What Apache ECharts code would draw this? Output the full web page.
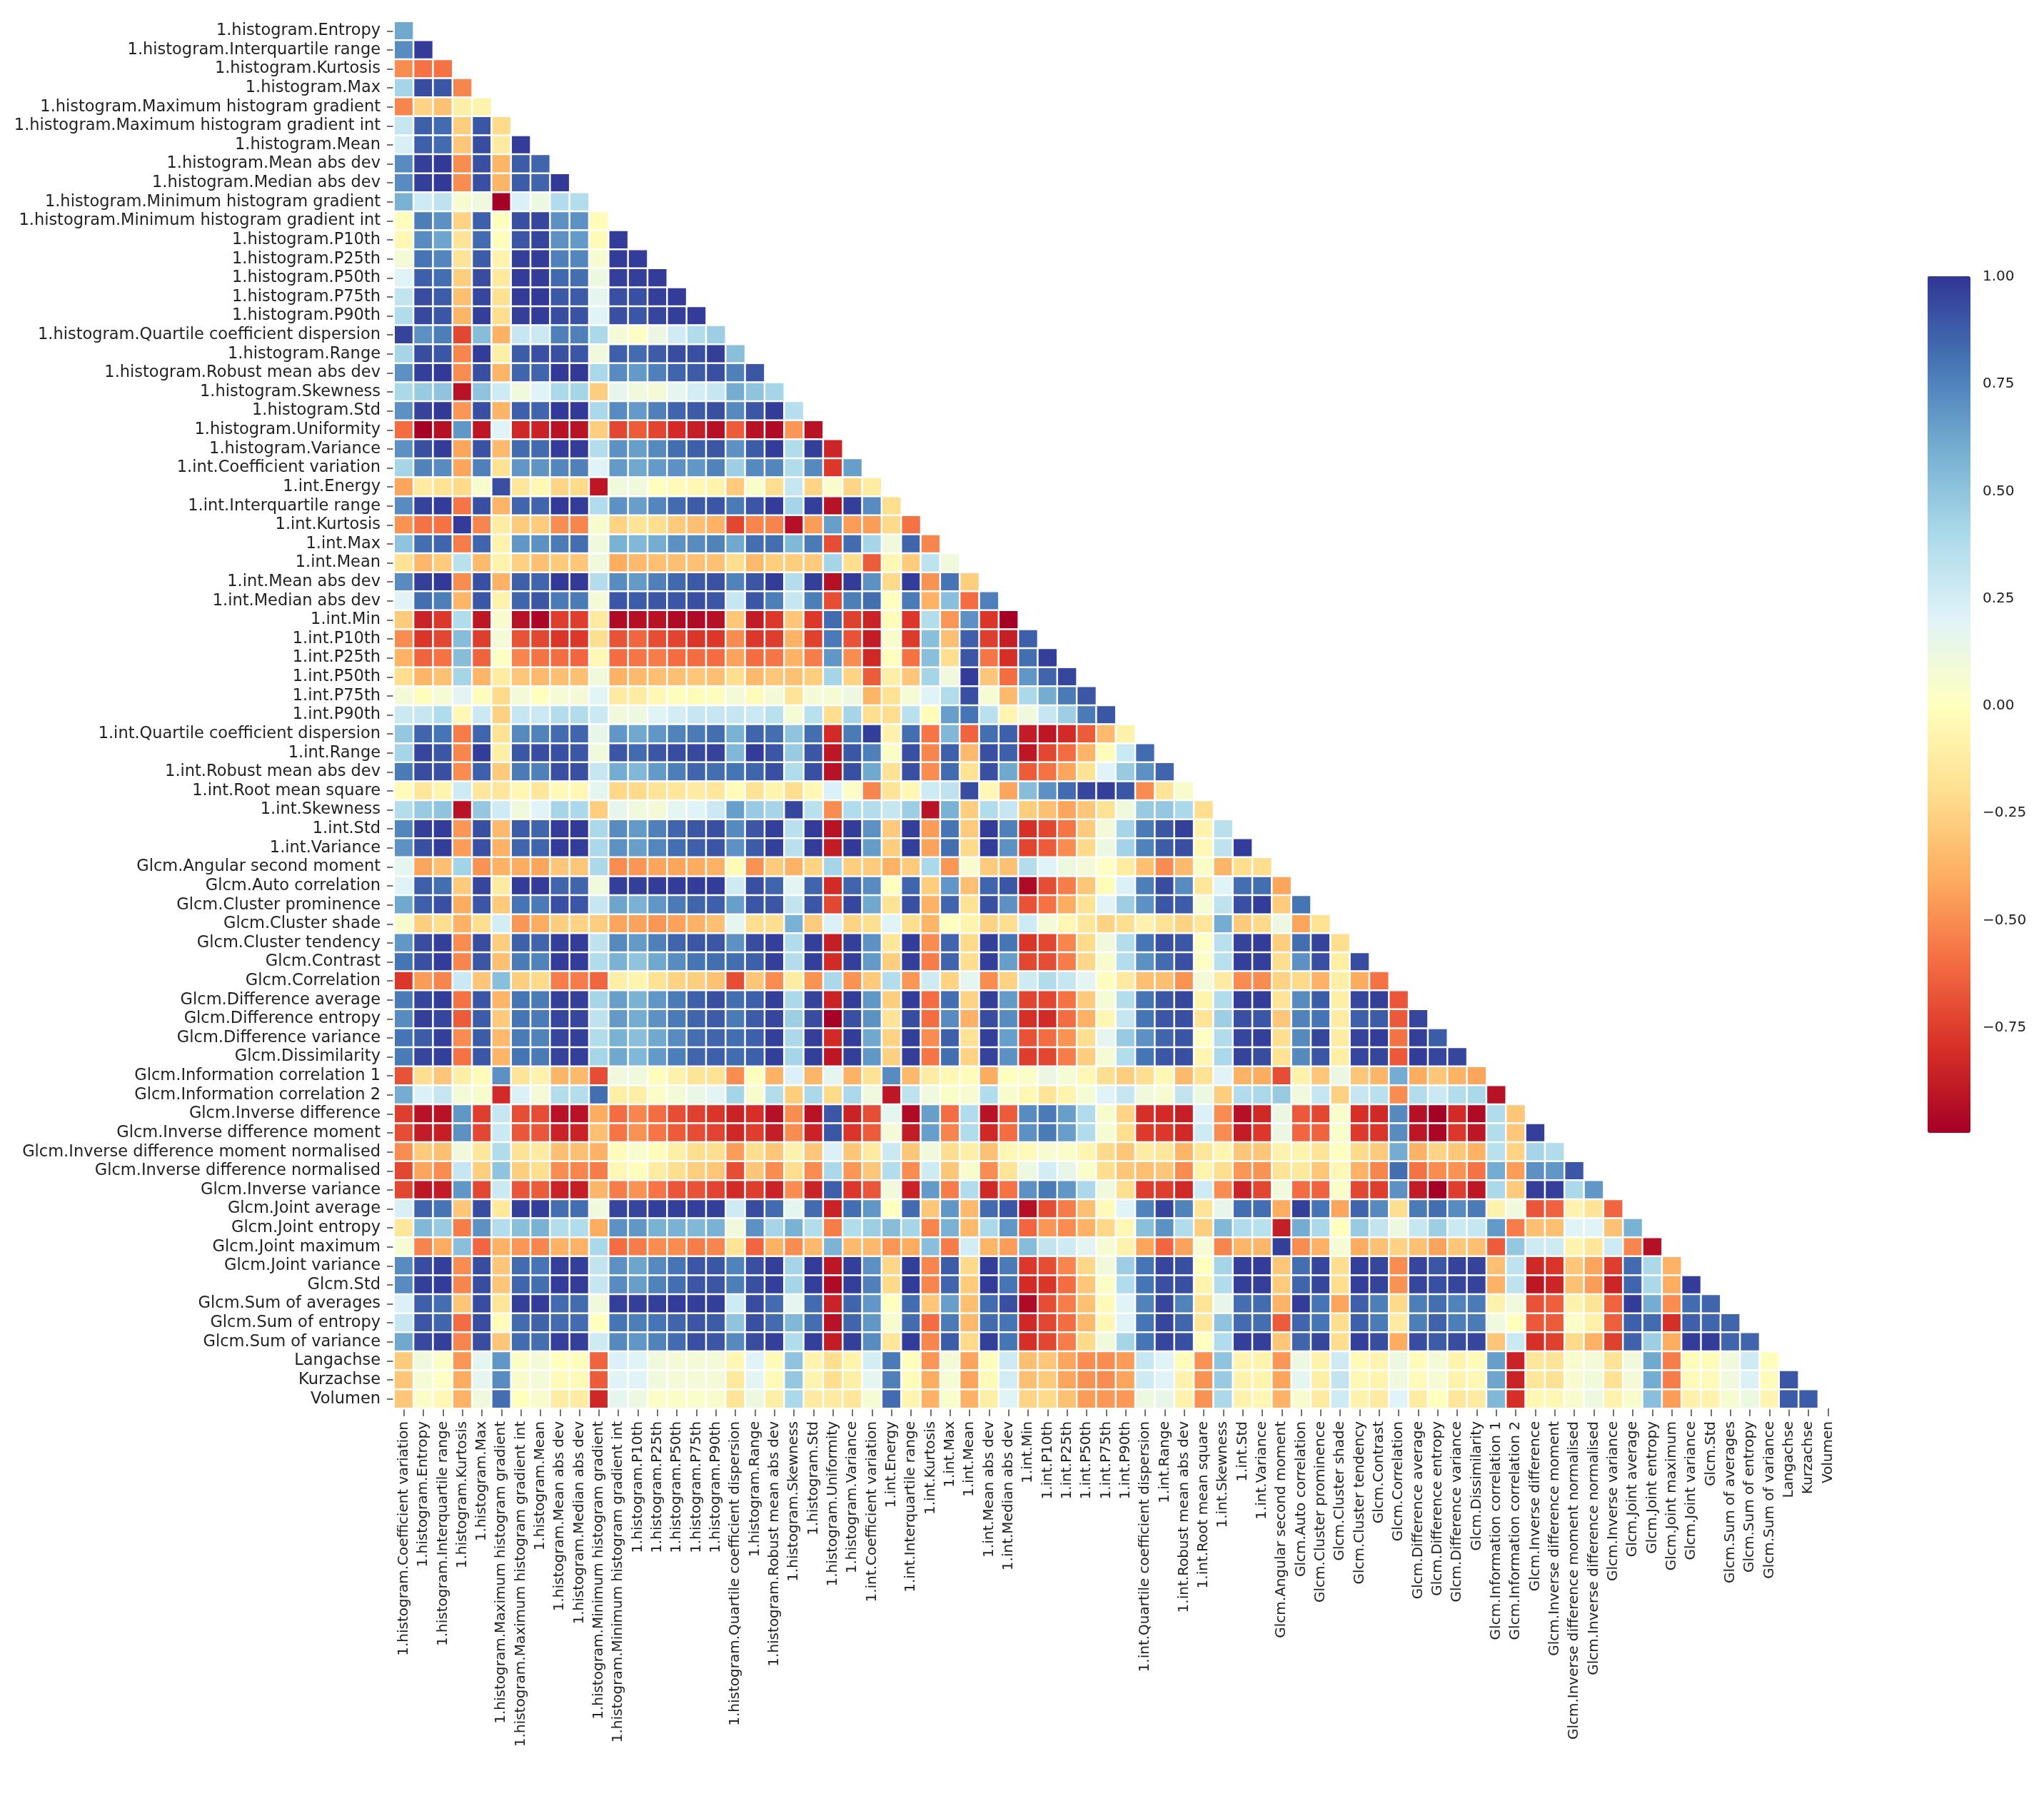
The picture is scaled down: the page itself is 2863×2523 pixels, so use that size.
<!DOCTYPE html>
<html><head><meta charset="utf-8"><style>html,body{margin:0;padding:0;background:#fff}#c{width:2863px;height:2523px;filter:blur(0.7px)}</style>
<script src="https://cdn.jsdelivr.net/npm/echarts@6/dist/echarts.min.js"></script></head><body><div id="c"></div>
<script>
const rowNames=['1.histogram.Entropy','1.histogram.Interquartile range','1.histogram.Kurtosis','1.histogram.Max','1.histogram.Maximum histogram gradient','1.histogram.Maximum histogram gradient int','1.histogram.Mean','1.histogram.Mean abs dev','1.histogram.Median abs dev','1.histogram.Minimum histogram gradient','1.histogram.Minimum histogram gradient int','1.histogram.P10th','1.histogram.P25th','1.histogram.P50th','1.histogram.P75th','1.histogram.P90th','1.histogram.Quartile coefficient dispersion','1.histogram.Range','1.histogram.Robust mean abs dev','1.histogram.Skewness','1.histogram.Std','1.histogram.Uniformity','1.histogram.Variance','1.int.Coefficient variation','1.int.Energy','1.int.Interquartile range','1.int.Kurtosis','1.int.Max','1.int.Mean','1.int.Mean abs dev','1.int.Median abs dev','1.int.Min','1.int.P10th','1.int.P25th','1.int.P50th','1.int.P75th','1.int.P90th','1.int.Quartile coefficient dispersion','1.int.Range','1.int.Robust mean abs dev','1.int.Root mean square','1.int.Skewness','1.int.Std','1.int.Variance','Glcm.Angular second moment','Glcm.Auto correlation','Glcm.Cluster prominence','Glcm.Cluster shade','Glcm.Cluster tendency','Glcm.Contrast','Glcm.Correlation','Glcm.Difference average','Glcm.Difference entropy','Glcm.Difference variance','Glcm.Dissimilarity','Glcm.Information correlation 1','Glcm.Information correlation 2','Glcm.Inverse difference','Glcm.Inverse difference moment','Glcm.Inverse difference moment normalised','Glcm.Inverse difference normalised','Glcm.Inverse variance','Glcm.Joint average','Glcm.Joint entropy','Glcm.Joint maximum','Glcm.Joint variance','Glcm.Std','Glcm.Sum of averages','Glcm.Sum of entropy','Glcm.Sum of variance','Langachse','Kurzachse','Volumen'];
const colNames=['1.histogram.Coefficient variation'].concat(rowNames);
const colorbarTicks=[1,.75,.5,.25,0,-.25,-.5,-.75];
const colorStops=['#a50026','#d73027','#f46d43','#fdae61','#fee090','#ffffbf','#e0f3f8','#abd9e9','#74add1','#4575b4','#313695'];
const r00=[.62];
const r01=[.72,.98];
const r02=[-.5,-.58,-.58];
const r03=[.42,.93,.9,-.52];
const r04=[-.52,-.25,-.32,-.1,-.07];
const r05=[.3,.87,.83,-.27,.9,-.22];
const r06=[.23,.87,.83,-.3,.93,-.13,.98];
const r07=[.72,.97,.99,-.5,.92,-.37,.88,.85];
const r08=[.72,.97,.99,-.5,.92,-.37,.88,.85,.99];
const r09=[.58,.27,.33,.06,.1,-1,.22,.12,.38,.37];
const r10=[-.01,.77,.7,-.25,.87,0,.92,.95,.7,.7,-.02];
const r11=[-.04,.72,.63,-.17,.83,-.01,.9,.95,.7,.67,-.03,.98];
const r12=[.08,.8,.74,-.17,.88,-.07,.97,.98,.76,.74,.06,.98,.98];
const r13=[.2,.87,.82,-.27,.93,-.14,.98,.98,.84,.82,.12,.97,.97,.98];
const r14=[.32,.93,.88,-.33,.95,-.19,.98,.99,.89,.88,.17,.92,.92,.97,.98];
const r15=[.38,.94,.9,-.37,.97,-.2,.97,.98,.93,.91,.2,.92,.9,.95,.97,.98];
const r16=[.96,.7,.77,-.72,.53,-.38,.3,.28,.76,.76,.4,.08,.02,.13,.26,.38,.45];
const r17=[.42,.93,.9,-.52,.98,-.1,.88,.92,.92,.9,.1,.87,.83,.88,.93,.92,.97,.52];
const r18=[.7,.97,.99,-.5,.92,-.37,.85,.85,.99,.99,.4,.72,.67,.76,.85,.88,.92,.76,.9];
const r19=[.4,.47,.5,-.92,.5,.27,.1,.2,.4,.42,-.27,.16,.1,.08,.17,.25,.3,.6,.5,.42];
const r20=[.7,.96,.99,-.47,.92,-.37,.87,.85,.99,.99,.4,.72,.67,.76,.85,.88,.92,.73,.9,.98,.36];
const r21=[-.6,-1,-.93,.68,-.9,.2,-.83,-.85,-.92,-.92,-.27,-.72,-.65,-.73,-.82,-.87,-.93,-.65,-.92,-.95,-.47,-.92];
const r22=[.7,.92,.98,-.42,.91,-.35,.83,.83,.98,.98,.37,.7,.65,.73,.82,.87,.9,.7,.88,.98,.38,.97,-.84];
const r23=[.42,.75,.72,-.42,.76,-.18,.68,.69,.74,.76,.2,.67,.62,.67,.7,.68,.75,.45,.73,.74,.38,.73,-.77,.65];
const r24=[-.42,-.13,-.18,-.22,.05,.92,-.15,-.05,-.24,-.22,-.9,.1,.1,0,-.03,-.05,-.07,-.28,.04,-.2,.3,-.24,.05,-.24,-.12];
const r25=[.72,.96,.98,-.57,.92,-.37,.85,.85,.99,.98,.38,.7,.65,.74,.83,.88,.9,.78,.9,.98,.42,.97,-.92,.97,.72,-.2];
const r26=[-.48,-.58,-.58,.98,-.52,-.12,-.28,-.28,-.5,-.52,.05,-.25,-.17,-.2,-.28,-.33,-.38,-.72,-.52,-.53,-.93,-.45,.65,-.45,-.45,-.22,-.58];
const r27=[.5,.82,.85,-.55,.85,-.08,.68,.7,.78,.82,.1,.58,.55,.6,.7,.72,.75,.62,.82,.82,.55,.78,-.7,.83,.42,.1,.85,-.52];
const r28=[-.18,-.36,-.28,.35,-.35,-.08,-.26,-.33,-.28,-.3,.1,-.4,-.35,-.33,-.33,-.32,-.32,-.2,-.35,-.27,-.27,-.28,.42,-.2,-.65,-.05,-.28,.33,.1];
const r29=[.72,.97,.99,-.5,.92,-.38,.87,.85,.99,.99,.37,.72,.67,.76,.84,.89,.91,.75,.9,.98,.37,.97,-.93,.98,.7,-.22,.98,-.48,.8,-.27];
const r30=[.2,.82,.77,-.37,.9,-.08,.85,.9,.78,.78,.08,.9,.88,.9,.9,.92,.9,.3,.9,.77,.3,.77,-.7,.77,.82,0,.78,-.38,.52,-.6,.76];
const r31=[-.28,-.85,-.77,.38,-.9,.05,-.92,-.97,-.75,-.75,-.13,-.95,-.93,-.92,-.95,-.95,-.93,-.3,-.88,-.77,-.3,-.77,.83,-.74,-.85,-.02,-.77,.37,-.47,.7,-.78,-1];
const r32=[-.5,-.78,-.72,.53,-.75,.08,-.68,-.72,-.78,-.77,-.2,-.68,-.62,-.7,-.73,-.78,-.77,-.5,-.77,-.75,-.38,-.74,.78,-.68,-.88,.05,-.76,.52,-.33,.87,-.75,-.87,.87];
const r33=[-.38,-.63,-.58,.53,-.63,.02,-.52,-.58,-.6,-.62,-.05,-.6,-.57,-.55,-.6,-.6,-.6,-.43,-.6,-.57,-.38,-.55,.68,-.5,-.83,0,-.58,.52,-.2,.9,-.57,-.8,.82,.97];
const r34=[-.2,-.37,-.32,.42,-.37,-.12,-.3,-.35,-.33,-.33,.1,-.38,-.35,-.33,-.33,-.3,-.33,-.2,-.35,-.3,-.32,-.27,.42,-.25,-.65,-.1,-.3,.42,.1,.98,-.3,-.6,.68,.85,.95];
const r35=[.08,-.01,.07,.18,-.01,-.22,.08,0,.07,.08,.19,-.13,-.12,-.05,-.01,-.02,-.01,.08,-.02,.08,-.17,.08,.07,.12,-.37,-.18,.07,.2,.38,.92,.07,-.35,.4,.6,.78,.9];
const r36=[.28,.3,.38,-.04,.28,-.26,.3,.28,.37,.38,.28,.1,.12,.2,.25,.3,.3,.3,.28,.35,.07,.35,-.2,.42,-.2,-.2,.35,-.02,.65,.8,.35,-.06,.1,.3,.45,.78,.9];
const r37=[.48,.85,.8,-.55,.85,-.18,.73,.75,.83,.85,.15,.68,.62,.68,.75,.78,.82,.58,.85,.82,.5,.82,-.82,.78,.97,-.08,.82,-.57,.55,-.63,.82,.87,-.88,-.9,-.82,-.65,-.35,-.08];
const r38=[.42,.95,.9,-.52,.98,-.1,.9,.93,.92,.9,.1,.9,.83,.9,.93,.94,.96,.55,.98,.9,.47,.9,-.9,.9,.76,.03,.92,-.52,.87,-.35,.92,.87,-.9,-.72,-.6,-.37,-.02,.28,.83];
const r39=[.78,.93,.92,-.5,.87,-.28,.78,.76,.92,.92,.3,.6,.55,.67,.77,.85,.82,.8,.85,.92,.38,.92,-.92,.92,.62,-.18,.92,-.5,.83,-.18,.92,.62,-.65,-.58,-.42,-.18,.2,.47,.7,.85];
const r40=[-.02,-.15,-.07,.27,-.15,-.15,-.05,-.15,-.03,-.05,.17,-.23,-.22,-.17,-.15,-.13,-.15,-.02,-.18,-.07,-.2,-.05,.22,.03,-.52,-.17,-.05,.27,.33,.93,-.05,-.42,.53,.7,.83,.95,.97,.9,-.5,-.17,.05];
const r41=[.37,.47,.5,-.92,.48,.27,.1,.2,.42,.4,-.27,.16,.1,.08,.17,.2,.28,.65,.47,.42,.95,.35,-.5,.38,.37,.3,.45,-.92,.58,-.27,.38,.3,-.27,-.33,-.42,-.3,-.18,.1,.47,.48,.4,-.2];
const r42=[.74,.97,.98,-.47,.92,-.35,.88,.85,.98,.99,.4,.72,.67,.76,.85,.9,.92,.73,.9,.97,.35,.98,-.92,.98,.7,-.28,.97,-.45,.8,-.28,.98,.76,-.8,-.72,-.57,-.28,.08,.42,.78,.9,.97,-.08,.35];
const r43=[.7,.92,.98,-.45,.92,-.38,.85,.85,.98,.98,.4,.7,.65,.74,.82,.87,.9,.7,.88,.97,.35,.98,-.88,.99,.66,-.27,.97,-.43,.82,-.22,.98,.7,-.73,-.65,-.5,-.22,.12,.43,.75,.88,.92,-.04,.33,.98];
const r44=[.17,-.42,-.33,.43,-.48,-.38,-.4,-.42,-.3,-.3,.4,-.5,-.47,-.42,-.42,-.4,-.38,-.03,-.48,-.28,-.38,-.25,.42,-.27,-.28,-.38,-.28,.4,-.47,.05,-.28,-.32,.37,.2,.12,.08,.02,-.12,-.33,-.5,-.35,.03,-.37,-.2,-.2];
const r45=[.2,.87,.82,-.28,.95,-.13,.98,.98,.85,.85,.1,.97,.97,.98,.98,.98,.98,.27,.92,.85,.18,.85,-.82,.85,.72,0,.85,-.27,.68,-.33,.85,.9,-.95,-.7,-.55,-.3,-.02,.22,.77,.93,.72,-.15,.2,.82,.82,-.42];
const r46=[.62,.87,.92,-.4,.9,-.28,.8,.78,.92,.9,.3,.63,.58,.68,.78,.85,.87,.65,.9,.9,.32,.9,-.72,.95,.62,-.18,.92,-.38,.85,-.18,.92,.7,-.68,-.58,-.4,-.18,.2,.45,.7,.9,.88,.07,.33,.92,.98,-.28,.8];
const r47=[.05,-.27,-.2,-.38,-.2,.25,-.47,-.4,-.27,-.25,-.27,-.42,-.43,-.47,-.43,-.38,-.33,.17,-.2,-.2,.58,-.28,.22,-.25,-.2,.2,-.2,-.37,0,-.07,-.25,-.2,.27,.08,-.05,-.15,-.25,-.2,-.08,-.18,-.25,-.15,.6,-.28,-.22,.12,-.42,-.18];
const r48=[.68,.93,.97,-.5,.93,-.27,.87,.85,.97,.98,.33,.73,.67,.76,.85,.9,.9,.7,.93,.97,.38,.97,-.87,.97,.7,-.15,.98,-.5,.85,-.22,.97,.8,-.78,-.72,-.52,-.22,.1,.37,.8,.92,.9,.02,.35,.96,.98,-.27,.82,.96,-.2];
const r49=[.8,.92,.98,-.52,.9,-.33,.78,.75,.98,.98,.38,.58,.5,.62,.72,.8,.82,.82,.87,.97,.37,.97,-.82,.97,.67,-.27,.97,-.55,.85,-.2,.97,.65,-.72,-.7,-.55,-.23,.05,.37,.7,.83,.92,.02,.35,.97,.97,-.2,.7,.92,-.1,.93];
const r50=[-.77,-.45,-.52,.28,-.3,.52,-.27,-.22,-.55,-.55,-.62,-.1,-.07,-.18,-.25,-.27,-.32,-.7,-.3,-.5,-.12,-.48,.4,-.48,-.28,.37,-.47,.27,-.25,.17,-.5,-.25,.27,.38,.3,.18,-.01,-.13,-.33,-.33,-.48,.08,-.13,-.5,-.5,-.25,-.22,-.38,-.1,-.4,-.58];
const r51=[.78,.95,.98,-.58,.9,-.37,.8,.78,.97,.97,.42,.65,.58,.68,.78,.87,.92,.82,.87,.97,.4,.96,-.85,.98,.68,-.27,.98,-.6,.82,-.25,.97,.67,-.73,-.72,-.58,-.28,.07,.37,.8,.9,.95,-.07,.38,.97,.98,-.17,.72,.88,-.1,.95,.97,-.67];
const r52=[.72,.97,.95,-.65,.88,-.28,.8,.78,.95,.95,.33,.67,.6,.7,.78,.85,.88,.78,.88,.95,.45,.93,-1,.92,.7,-.17,.93,-.6,.72,-.38,.93,.72,-.8,-.82,-.6,-.38,-.05,.3,.8,.9,.92,-.17,.45,.92,.9,-.3,.75,.8,-.12,.87,.88,-.66,.95];
const r53=[.8,.88,.97,-.5,.88,-.35,.78,.75,.95,.97,.38,.58,.52,.62,.72,.82,.85,.82,.87,.97,.4,.97,-.82,.98,.62,-.25,.97,-.5,.87,-.18,.97,.65,-.68,-.6,-.48,-.2,.17,.47,.7,.85,.9,.02,.38,.95,.97,-.2,.73,.95,-.12,.96,.98,-.58,.97,.88];
const r54=[.78,.95,.97,-.58,.9,-.37,.8,.78,.96,.97,.42,.62,.55,.67,.77,.85,.87,.83,.87,.97,.42,.97,-.9,.97,.68,-.26,.97,-.57,.82,-.25,.96,.7,-.75,-.72,-.55,-.27,.07,.37,.8,.9,.92,-.06,.4,.96,.93,-.18,.73,.9,-.1,.95,.95,-.66,.98,.95,.95];
const r55=[-.68,-.2,-.3,-.1,-.02,.7,-.17,-.08,-.37,-.35,-.7,.1,.1,-.01,-.08,-.17,-.18,-.5,0,-.38,.22,-.37,.17,-.38,-.18,.72,-.35,-.12,-.04,-.02,-.4,0,.03,.13,.07,-.05,-.2,-.27,-.2,-.04,-.35,-.18,.2,-.38,-.4,-.7,-.08,-.3,.13,-.3,-.37,.6,-.4,-.3,-.38,-.42];
const r56=[.6,.22,.3,.08,.05,-.82,.22,.08,.37,.37,.82,-.1,-.1,.03,.08,.14,.18,.42,.05,.37,-.27,.4,-.22,.4,.1,-.9,.33,.11,.03,.06,.38,.05,-.04,-.17,-.07,.07,.2,.3,.1,.06,.32,.12,-.27,.38,.4,.47,.1,.3,-.26,.3,.35,-.5,.37,.28,.37,.4,-.92];
const r57=[-.75,-.92,-.92,.68,-.75,.3,-.7,-.7,-.92,-.92,-.4,-.6,-.52,-.6,-.7,-.74,-.78,-.85,-.8,-.93,-.5,-.92,.9,-.85,-.7,.17,-.95,.65,-.6,.38,-.92,-.65,.72,.78,.65,.38,.05,-.24,-.8,-.82,-.87,.22,-.5,-.93,-.83,.13,-.66,-.72,.04,-.8,-.83,.73,-.93,-1,-.82,-.95,.38,-.3];
const r58=[-.7,-.88,-.87,.7,-.72,.28,-.67,-.67,-.85,-.85,-.33,-.57,-.48,-.57,-.65,-.7,-.73,-.83,-.75,-.87,-.5,-.85,.9,-.78,-.65,.08,-.88,.65,-.53,.38,-.83,-.6,.7,.78,.65,.38,.07,-.2,-.76,-.77,-.83,.27,-.5,-.88,-.77,.13,-.62,-.63,.04,-.76,-.78,.72,-.9,-.97,-.77,-.9,.37,-.3,.97];
const r59=[-.5,-.28,-.33,.1,-.15,.38,-.18,-.13,-.33,-.33,-.38,-.02,.05,-.02,-.1,-.2,-.2,-.45,-.2,-.3,-.08,-.3,.22,-.3,-.13,.28,-.3,.1,-.2,-.1,-.32,-.05,-.03,.06,.03,-.06,-.22,-.3,-.12,-.15,-.37,-.15,-.06,-.3,-.3,-.08,-.07,-.17,0,-.22,-.28,.6,-.38,-.24,-.3,-.38,.35,-.25,.42,.38];
const r60=[-.72,-.42,-.5,.3,-.27,.5,-.27,-.2,-.5,-.52,-.55,-.05,-.01,-.12,-.2,-.27,-.3,-.7,-.3,-.5,-.2,-.5,.4,-.47,-.3,.37,-.5,.27,-.3,.05,-.5,-.17,.12,.25,.15,.04,-.2,-.3,-.33,-.3,-.5,-.07,-.2,-.47,-.48,-.17,-.14,-.3,-.05,-.38,-.52,.82,-.58,-.5,-.48,-.58,.6,-.45,.7,.68,.9];
const r61=[-.72,-.9,-.88,.68,-.72,.28,-.67,-.65,-.85,-.87,-.37,-.55,-.48,-.57,-.67,-.68,-.73,-.82,-.75,-.85,-.5,-.85,.87,-.77,-.67,.1,-.85,.67,-.55,.38,-.83,-.58,.7,.78,.68,.4,.1,-.2,-.75,-.75,-.83,.27,-.5,-.85,-.72,.1,-.6,-.63,.03,-.72,-.75,.7,-.88,-1,-.75,-.9,.4,-.28,.97,.97,.4,.68];
const r62=[.23,.85,.8,-.3,.93,-.14,.97,.97,.82,.82,.1,.95,.95,.97,.97,.97,.97,.27,.93,.83,.17,.83,-.85,.82,.68,0,.83,-.3,.68,-.35,.83,.9,-.93,-.7,-.55,-.33,-.03,.2,.75,.95,.75,-.17,.15,.82,.82,-.4,.97,.8,-.42,.85,.73,-.2,.78,.82,.72,.78,-.08,.1,-.67,-.63,-.08,-.17,-.62];
const r63=[-.15,.55,.47,-.55,.7,.37,.52,.58,.37,.38,-.4,.7,.68,.58,.58,.55,.58,.1,.7,.42,.58,.37,-.55,.38,.45,.53,.42,-.52,.58,-.35,.4,.68,-.62,-.47,-.5,-.38,-.23,-.05,.52,.7,.38,-.27,.55,.38,.35,-.87,.6,.4,0,.47,.32,.12,.3,.45,.28,.3,.67,-.55,-.33,-.33,.2,.2,-.32,.58];
const r64=[.07,-.53,-.4,.52,-.62,-.38,-.47,-.52,-.38,-.38,.4,-.6,-.55,-.5,-.5,-.55,-.52,-.17,-.62,-.38,-.5,-.35,.57,-.35,-.35,-.47,-.4,.52,-.55,.25,-.37,-.45,.53,.32,.27,.18,.07,-.08,-.42,-.62,-.43,.07,-.52,-.37,-.36,.97,-.5,-.38,.07,-.4,-.32,-.25,-.32,-.43,-.3,-.33,-.65,.48,.27,.27,-.07,-.15,.27,-.52,-.93];
const r65=[.72,.93,.97,-.5,.93,-.3,.83,.8,.97,.97,.32,.7,.63,.73,.8,.9,.9,.75,.92,.97,.42,.98,-.9,.97,.7,-.23,.97,-.52,.88,-.22,.97,.78,-.77,-.7,-.52,-.23,.09,.45,.8,.95,.92,0,.42,.97,.98,-.3,.82,.95,-.2,.97,.95,-.5,.95,.9,.96,.96,-.33,.33,-.83,-.78,-.3,-.42,-.75,.83,.4,-.38];
const r66=[.72,.97,.98,-.52,.93,-.3,.85,.82,.98,.98,.3,.72,.65,.75,.82,.9,.9,.77,.92,.97,.42,.97,-.95,.97,.76,-.22,.98,-.52,.85,-.28,.98,.8,-.82,-.78,-.6,-.3,.03,.38,.8,.92,.92,-.07,.38,.97,.97,-.28,.85,.95,-.2,.97,.96,-.48,.95,.92,.95,.96,-.38,.33,-.9,-.84,-.32,-.45,-.84,.85,.4,-.4,.98];
const r67=[.22,.87,.82,-.3,.93,-.16,.97,.98,.83,.83,.1,.97,.97,.97,.98,.97,.97,.27,.93,.83,.17,.83,-.85,.85,.68,0,.83,-.3,.65,-.33,.83,.92,-.95,-.7,-.55,-.32,-.03,.2,.75,.95,.75,-.17,.15,.82,.83,-.38,.98,.8,-.42,.87,.77,-.22,.77,.82,.75,.78,-.08,.1,-.68,-.64,-.08,-.17,-.63,.98,.6,-.5,.83,.85];
const r68=[.3,.9,.85,-.6,.93,-.02,.83,.86,.83,.83,0,.8,.77,.8,.85,.9,.88,.5,.92,.83,.55,.82,-.92,.85,.68,.05,.83,-.6,.78,-.35,.83,.8,-.83,-.72,-.6,-.35,-.05,.2,.8,.95,.85,-.15,.5,.83,.82,-.65,.85,.8,-.2,.87,.78,-.13,.77,.86,.77,.78,.1,0,-.66,-.65,.03,-.09,-.64,.87,.83,-.8,.87,.85,.85];
const r69=[.62,.94,.97,-.52,.93,-.3,.83,.82,.97,.97,.27,.73,.68,.75,.83,.92,.9,.73,.93,.97,.38,.97,-.88,.97,.72,-.15,.98,-.52,.88,-.22,.97,.8,-.8,-.72,-.55,-.22,.1,.42,.8,.95,.92,.01,.38,.97,.97,-.3,.85,.95,-.2,.97,.93,-.4,.93,.88,.93,.95,-.3,.28,-.8,-.74,-.22,-.38,-.74,.86,.45,-.4,.98,.98,.85,.85];
const r70=[-.28,.1,.03,-.47,.17,.68,.03,.08,0,-.01,-.63,.22,.2,.1,.08,.08,.08,-.05,.2,-.03,.5,-.07,-.2,-.07,.25,.78,-.01,-.47,.08,-.42,-.01,.27,-.33,-.3,-.42,-.5,-.5,-.45,.3,.2,-.02,-.48,.5,-.06,-.07,-.47,.12,-.08,.27,-.03,-.06,.12,-.02,.08,-.07,-.03,.65,-.85,-.15,-.17,.05,.08,-.17,.1,.62,-.55,-.02,-.02,.1,.27,-.01];
const r71=[-.3,.07,.02,-.4,.17,.72,.05,.08,-.03,-.03,-.65,.2,.2,.1,.08,.08,.08,-.14,.18,-.03,.48,-.07,-.2,-.1,.17,.76,-.02,-.4,.07,-.42,-.03,.25,-.33,-.28,-.42,-.48,-.5,-.42,.27,.2,-.08,-.48,.47,-.08,-.07,-.42,.17,-.1,.32,-.04,-.07,.1,-.03,.07,-.08,-.04,.63,-.85,-.15,-.19,.05,.09,-.18,.08,.6,-.55,-.03,-.03,.1,.22,-.02,.9];
const r72=[-.3,.03,-.05,-.38,.1,.82,0,.05,-.12,-.12,-.83,.17,.12,.03,.03,.04,.05,-.17,.12,-.1,.4,-.13,-.13,-.15,.07,.83,-.06,-.38,.04,-.38,-.1,.2,-.24,-.22,-.32,-.45,-.46,-.46,.12,.15,-.08,-.48,.4,-.08,-.05,-.38,.05,-.13,.27,-.08,-.13,.2,-.12,0,-.15,-.13,.55,-.8,-.05,-.05,.05,.12,-.08,.05,.52,-.45,-.09,-.08,.06,.12,-.06,.88,.88];
const rows=[r00,r01,r02,r03,r04,r05,r06,r07,r08,r09,r10,r11,r12,r13,r14,r15,r16,r17,r18,r19,r20,r21,r22,r23,r24,r25,r26,r27,r28,r29,r30,r31,r32,r33,r34,r35,r36,r37,r38,r39,r40,r41,r42,r43,r44,r45,r46,r47,r48,r49,r50,r51,r52,r53,r54,r55,r56,r57,r58,r59,r60,r61,r62,r63,r64,r65,r66,r67,r68,r69,r70,r71,r72];
const cells=[];
rows.forEach((row,y)=>row.forEach((v,x)=>cells.push([x,y,v])));
const font='DejaVu Sans';
const chart=echarts.init(document.getElementById('c'));
chart.setOption({
  animation:false,backgroundColor:'#fff',
  grid:[{left:552,top:30,width:2022,height:1943},{left:2700,top:388,width:60,height:1199}],
  xAxis:[
    {type:'category',gridIndex:0,data:colNames,position:'bottom',splitArea:{show:false},axisLine:{show:false},
     axisTick:{show:true,alignWithLabel:true,length:11,lineStyle:{color:'#444',width:1.5}},
     axisLabel:{interval:0,rotate:90,margin:18,fontSize:20,fontFamily:font,color:'#222'}},
    {type:'value',gridIndex:1,show:false,min:0,max:1}
  ],
  yAxis:[
    {type:'category',gridIndex:0,data:rowNames,inverse:true,splitArea:{show:false},axisLine:{show:false},
     axisTick:{show:true,alignWithLabel:true,length:10,lineStyle:{color:'#444',width:1.5}},
     axisLabel:{interval:0,margin:19,fontSize:22.5,fontFamily:font,color:'#222'}},
    {type:'value',gridIndex:1,position:'right',min:-.995,max:1,splitLine:{show:false},axisLine:{show:false},
     axisTick:{show:true,length:12,customValues:colorbarTicks,lineStyle:{color:'#555',width:1.5}},
     axisLabel:{margin:17,fontSize:20,fontFamily:font,color:'#222',customValues:colorbarTicks,
       formatter:v=>(v<0?'\u2212':'')+Math.abs(v).toFixed(2)}}
  ],
  visualMap:{type:'continuous',seriesIndex:0,min:-.995,max:1,calculable:false,realtime:false,hoverLink:false,
    left:2700,top:387,itemWidth:60,itemHeight:1200,padding:0,text:null,showLabel:false,
    inRange:{color:colorStops},textStyle:{fontSize:0}},
  series:[{type:'heatmap',xAxisIndex:0,yAxisIndex:0,data:cells,silent:true,
    progressive:0,itemStyle:{borderColor:'#fff',borderWidth:2.5},emphasis:{disabled:true}}]
});
</script></body></html>
